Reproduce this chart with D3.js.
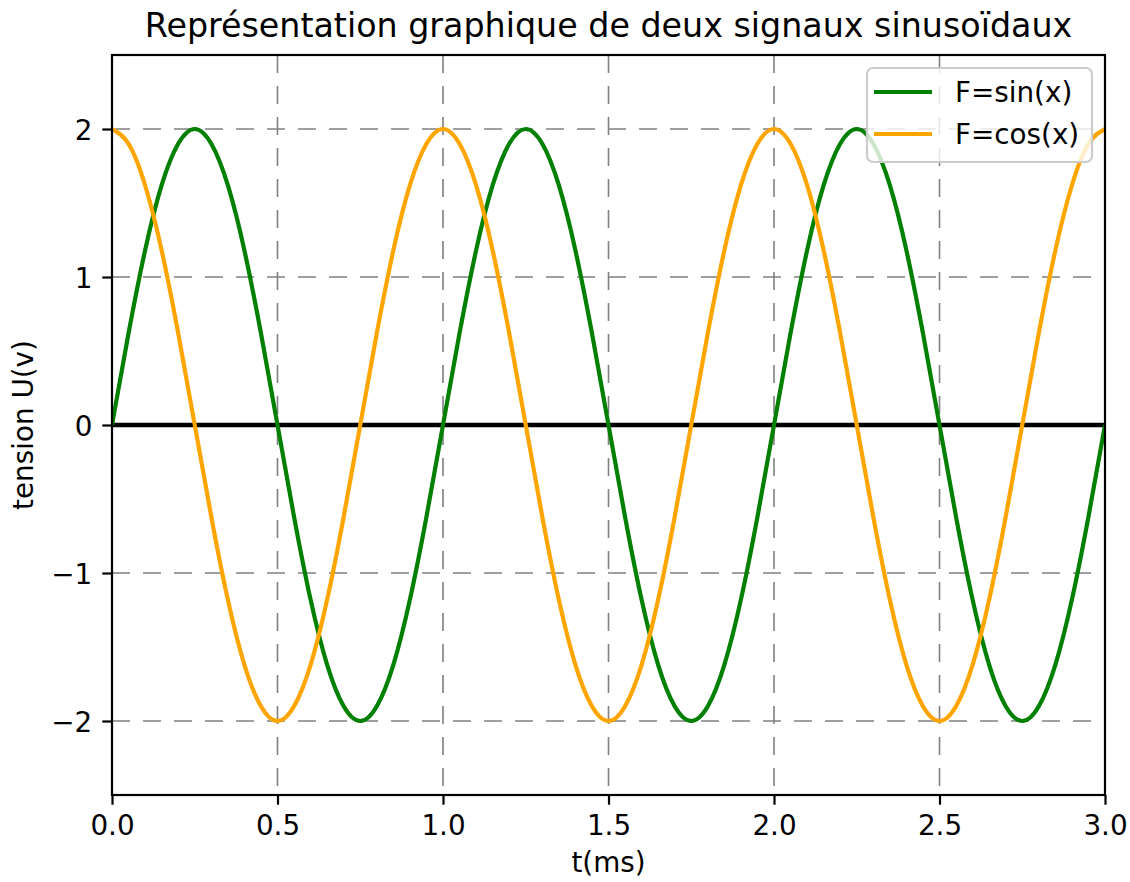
<!DOCTYPE html>
<html>
<head>
<meta charset="utf-8">
<script src="https://cdn.jsdelivr.net/npm/d3@7"></script>
<style>
  html, body { margin: 0; padding: 0; background: #fff; }
  svg { display: block; }
  text { font-family: "DejaVu Sans", sans-serif; fill: #000; }
</style>
</head>
<body>
<svg id="chart" width="1130" height="882"></svg>
<script>
// ---- data ----
const titleText = "Représentation graphique de deux signaux sinusoïdaux";
const xLabel = "t(ms)";
const yLabel = "tension U(v)";
const seriesNames = ["F=sin(x)", "F=cos(x)"];
const seriesColors = ["green", "orange"];
const xTicks = [0.0, 0.5, 1.0, 1.5, 2.0, 2.5, 3.0];
const yTicks = [-2, -1, 0, 1, 2];
const tValues = [
  0.00, 0.05, 0.10, 0.15, 0.20, 0.25, 0.30, 0.35, 0.40, 0.45,
  0.50, 0.55, 0.60, 0.65, 0.70, 0.75, 0.80, 0.85, 0.90, 0.95,
  1.00, 1.05, 1.10, 1.15, 1.20, 1.25, 1.30, 1.35, 1.40, 1.45,
  1.50, 1.55, 1.60, 1.65, 1.70, 1.75, 1.80, 1.85, 1.90, 1.95,
  2.00, 2.05, 2.10, 2.15, 2.20, 2.25, 2.30, 2.35, 2.40, 2.45,
  2.50, 2.55, 2.60, 2.65, 2.70, 2.75, 2.80, 2.85, 2.90, 2.95,
  3.00
];
const sinValues = [
  0.00, 0.62, 1.18, 1.62, 1.90, 2.00, 1.90, 1.62, 1.18, 0.62,
  0.00, -0.62, -1.18, -1.62, -1.90, -2.00, -1.90, -1.62, -1.18, -0.62,
  0.00, 0.62, 1.18, 1.62, 1.90, 2.00, 1.90, 1.62, 1.18, 0.62,
  0.00, -0.62, -1.18, -1.62, -1.90, -2.00, -1.90, -1.62, -1.18, -0.62,
  0.00, 0.62, 1.18, 1.62, 1.90, 2.00, 1.90, 1.62, 1.18, 0.62,
  0.00, -0.62, -1.18, -1.62, -1.90, -2.00, -1.90, -1.62, -1.18, -0.62,
  0.00
];
const cosValues = [
  2.00, 1.90, 1.62, 1.18, 0.62, 0.00, -0.62, -1.18, -1.62, -1.90,
  -2.00, -1.90, -1.62, -1.18, -0.62, 0.00, 0.62, 1.18, 1.62, 1.90,
  2.00, 1.90, 1.62, 1.18, 0.62, 0.00, -0.62, -1.18, -1.62, -1.90,
  -2.00, -1.90, -1.62, -1.18, -0.62, 0.00, 0.62, 1.18, 1.62, 1.90,
  2.00, 1.90, 1.62, 1.18, 0.62, 0.00, -0.62, -1.18, -1.62, -1.90,
  -2.00, -1.90, -1.62, -1.18, -0.62, 0.00, 0.62, 1.18, 1.62, 1.90,
  2.00
];
const xDomain = [0, 3];
const yDomain = [-2.5, 2.5];

// ---- layout ----
const margin = { left: 112, top: 55, right: 1130 - 1105, bottom: 882 - 795 };
const W = 1130 - margin.left - margin.right;
const H = 882 - margin.top - margin.bottom;
const tickFont = 27.8;

const svg = d3.select("#chart");
const g = svg.append("g").attr("transform", `translate(${margin.left},${margin.top})`);

const x = d3.scaleLinear().domain(xDomain).range([0, W]);
const y = d3.scaleLinear().domain(yDomain).range([H, 0]);

svg.append("defs").append("clipPath").attr("id", "clip")
  .append("rect").attr("x", 0).attr("y", 0).attr("width", W).attr("height", H);

// grid
const grid = g.append("g");
grid.selectAll(".vg").data(xTicks.filter(d => d > xDomain[0] && d < xDomain[1])).join("line")
  .attr("x1", d => x(d)).attr("x2", d => x(d)).attr("y1", 0).attr("y2", H)
  .attr("stroke", "#808080").attr("stroke-width", 1.6).attr("stroke-dasharray", "18,13");
grid.selectAll(".hg").data(yTicks).join("line")
  .attr("y1", d => y(d)).attr("y2", d => y(d)).attr("x1", 0).attr("x2", W)
  .attr("stroke", "#808080").attr("stroke-width", 1.6).attr("stroke-dasharray", "18,13");

// zero line
g.append("line").attr("x1", 0).attr("x2", W).attr("y1", y(0)).attr("y2", y(0))
  .attr("stroke", "#000").attr("stroke-width", 4.5);

// curves
const series = [sinValues, cosValues];
const line = d3.line().x((d, i) => x(tValues[i])).y(d => y(d)).curve(d3.curveNatural);
const plot = g.append("g").attr("clip-path", "url(#clip)");
series.forEach((vals, i) => {
  plot.append("path").datum(vals).attr("d", line)
    .attr("fill", "none").attr("stroke", seriesColors[i]).attr("stroke-width", 4.2)
    .attr("stroke-linejoin", "round").attr("stroke-linecap", "butt");
});

// axes
const xAxis = d3.axisBottom(x).tickValues(xTicks).tickFormat(d3.format(".1f")).tickSize(9.7).tickPadding(9);
const yAxis = d3.axisLeft(y).tickValues(yTicks).tickFormat(d => d < 0 ? "\u2212" + Math.abs(d) : String(d)).tickSize(9.7).tickPadding(10);

const gx = g.append("g").attr("transform", `translate(0,${H})`).call(xAxis);
const gy = g.append("g").call(yAxis);
[gx, gy].forEach(a => {
  a.select(".domain").remove();
  a.selectAll(".tick line").attr("stroke", "#000").attr("stroke-width", 2.2);
  a.selectAll(".tick text").attr("font-size", tickFont).attr("font-family", "DejaVu Sans").attr("fill", "#000");
});
gx.selectAll(".tick text").attr("dy", "0.76em");
gy.selectAll(".tick text").attr("dy", "0.36em");

// spines
g.append("rect").attr("x", 0).attr("y", 0).attr("width", W).attr("height", H)
  .attr("fill", "none").attr("stroke", "#000").attr("stroke-width", 2.2);

// title & labels
svg.append("text").attr("x", margin.left + W / 2).attr("y", 37)
  .attr("text-anchor", "middle").attr("font-size", 33.3).text(titleText);
svg.append("text").attr("x", margin.left + W / 2).attr("y", 872)
  .attr("text-anchor", "middle").attr("font-size", tickFont).text(xLabel);
svg.append("text").attr("transform", `translate(33,${margin.top + H / 2}) rotate(-90)`)
  .attr("text-anchor", "middle").attr("font-size", tickFont).text(yLabel);

// legend
const leg = svg.append("g");
leg.append("rect").attr("x", 867).attr("y", 68).attr("width", 225).attr("height", 94)
  .attr("rx", 6).attr("ry", 6)
  .attr("fill", "#fff").attr("fill-opacity", 0.8).attr("stroke", "#cccccc").attr("stroke-width", 2.2);
const legY = [92, 134];
seriesNames.forEach((name, i) => {
  leg.append("line").attr("x1", 874).attr("x2", 932).attr("y1", legY[i]).attr("y2", legY[i])
    .attr("stroke", seriesColors[i]).attr("stroke-width", 4.2);
  leg.append("text").attr("x", 955).attr("y", legY[i]).attr("dy", "0.36em")
    .attr("font-size", tickFont).text(name);
});
</script>
</body>
</html>
